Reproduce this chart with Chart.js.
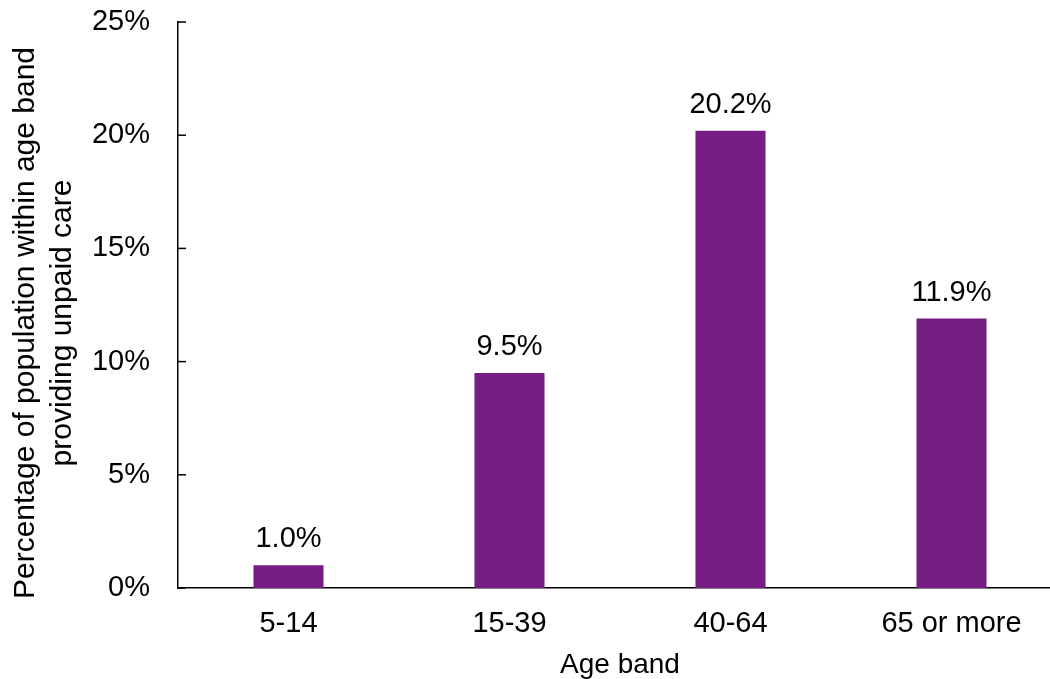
<!DOCTYPE html>
<html>
<head>
<meta charset="utf-8">
<script src="https://cdn.jsdelivr.net/npm/chart.js@4/dist/chart.umd.min.js"></script>
<style>
  html, body { margin: 0; padding: 0; background: #fff; overflow: hidden; }
  #wrap { width: 1064px; height: 679px; }
</style>
</head>
<body>
<div id="wrap"><canvas id="myChart"></canvas></div>
<script>
const ageBands = ['5-14', '15-39', '40-64', '65 or more']
const carePercent = [1.0, 9.5, 20.2, 11.9]
const yTicks = [0, 5, 10, 15, 20, 25]
const yTitle = ['Percentage of population within age band', 'providing unpaid care']

const barColor = '#761d83'
const font = 'Liberation Sans, Arial, sans-serif'

// percentage labels above bars
const valueLabels = {
    id: 'valueLabels',
    afterDatasetsDraw(chart) {
        const ctx = chart.ctx
        const meta = chart.getDatasetMeta(0)
        ctx.save()
        ctx.fillStyle = '#000'
        ctx.font = '29px ' + font
        ctx.textAlign = 'center'
        ctx.textBaseline = 'alphabetic'
        meta.data.forEach((bar, i) => {
            ctx.fillText(carePercent[i].toFixed(1) + '%', bar.x, bar.y - 18)
        })
        ctx.restore()
    }
}

// short tick marks on the inside of the y axis, plus the two-line y title
const yAxisExtras = {
    id: 'yAxisExtras',
    afterDraw(chart) {
        const ctx = chart.ctx
        const y = chart.scales.y
        ctx.save()
        ctx.strokeStyle = '#000'
        ctx.lineWidth = 1.5
        for (let v of yTicks) {
            const py = y.getPixelForValue(v)
            ctx.beginPath()
            ctx.moveTo(y.right, py)
            ctx.lineTo(y.right + 8, py)
            ctx.stroke()
        }
        ctx.fillStyle = '#000'
        ctx.font = '30px ' + font
        ctx.textAlign = 'center'
        ctx.textBaseline = 'middle'
        ctx.translate(0, 323)
        ctx.rotate(-Math.PI / 2)
        ctx.fillText(yTitle[0], 0, 26)
        ctx.fillText(yTitle[1], 0, 63)
        ctx.restore()
    }
}

new Chart(document.getElementById('myChart'), {
    type: 'bar',
    data: {
        labels: ageBands,
        datasets: [{
            data: carePercent,
            backgroundColor: barColor,
            categoryPercentage: 1,
            barPercentage: 0.317
        }]
    },
    options: {
        responsive: true,
        maintainAspectRatio: false,
        animation: false,
        layout: { padding: { top: 22, right: 2, left: 0, bottom: 0 } },
        plugins: { legend: { display: false }, tooltip: { enabled: false } },
        scales: {
            x: {
                grid: { display: false },
                border: { color: '#000', width: 1.5 },
                ticks: { color: '#000', font: { family: font, size: 29 }, padding: 11 },
                title: { display: true, text: 'Age band', color: '#000', font: { family: font, size: 28, lineHeight: 1.0 }, padding: { top: 0, bottom: 0 } },
                afterFit(scale) { scale.height = 91 }
            },
            y: {
                min: 0,
                max: 25,
                afterBuildTicks(scale) { scale.ticks = yTicks.map(v => ({ value: v })) },
                grid: { display: false },
                border: { color: '#000', width: 1.5 },
                ticks: {
                    color: '#000',
                    font: { family: font, size: 29 },
                    padding: 20,
                    callback: v => v + '%'
                },
                afterFit(scale) {
                    scale.width = 178
                    scale.paddingTop = 0
                    scale.paddingBottom = 0
                }
            }
        }
    },
    plugins: [valueLabels, yAxisExtras]
})
</script>
</body>
</html>
